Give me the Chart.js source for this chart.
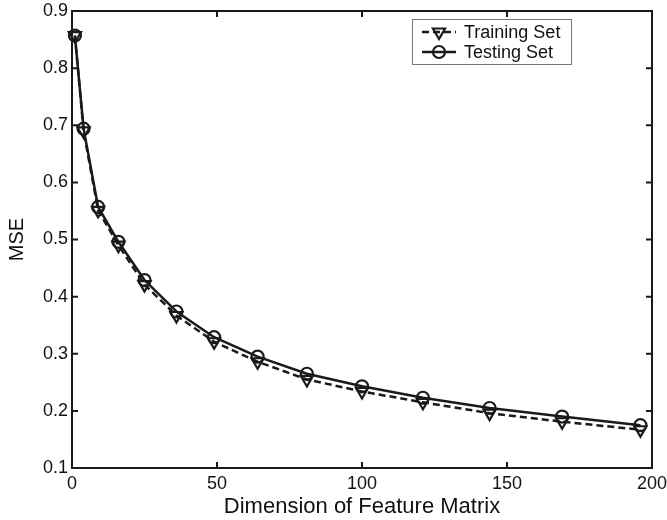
<!DOCTYPE html>
<html>
<head>
<meta charset="utf-8">
<script src="https://cdn.jsdelivr.net/npm/chart.js@4/dist/chart.umd.min.js"></script>
<style>
  html, body { margin: 0; padding: 0; background: #fff; }
  #wrap { width: 667px; height: 520px; }
</style>
</head>
<body>
<div id="wrap"><canvas id="chart" width="667" height="520"></canvas></div>
<script>
// Data
const dims = [1, 4, 9, 16, 25, 36, 49, 64, 81, 100, 121, 144, 169, 196];
const trainMse = [0.857, 0.690, 0.551, 0.490, 0.421, 0.367, 0.321, 0.286, 0.255, 0.234, 0.215, 0.196, 0.181, 0.167];
const testMse = [0.857, 0.694, 0.557, 0.496, 0.429, 0.374, 0.329, 0.295, 0.265, 0.243, 0.223, 0.205, 0.190, 0.175];
const xTicks = [0, 50, 100, 150, 200];
const yTicks = [0.1, 0.2, 0.3, 0.4, 0.5, 0.6, 0.7, 0.8, 0.9];

const FONT = '"Liberation Sans", Arial, sans-serif';
const INK = '#1a1a1a';

function toPoints(ys) {
  return dims.map((d, i) => ({ x: d, y: ys[i] }));
}

// Box frame + inward ticks on all four sides (MATLAB style)
const frameTicks = {
  id: 'frameTicks',
  afterDraw(chart) {
    const { ctx, chartArea: a, scales } = chart;
    const len = 6;
    ctx.save();
    ctx.strokeStyle = INK;
    ctx.lineWidth = 2;
    ctx.strokeRect(a.left, a.top, a.right - a.left, a.bottom - a.top);
    ctx.beginPath();
    xTicks.forEach(v => {
      const px = scales.x.getPixelForValue(v);
      ctx.moveTo(px, a.bottom); ctx.lineTo(px, a.bottom - len);
      ctx.moveTo(px, a.top); ctx.lineTo(px, a.top + len);
    });
    yTicks.forEach(v => {
      const py = scales.y.getPixelForValue(v);
      ctx.moveTo(a.left, py); ctx.lineTo(a.left + len, py);
      ctx.moveTo(a.right, py); ctx.lineTo(a.right - len, py);
    });
    ctx.stroke();
    ctx.restore();
  }
};

// Boxed legend in the upper right
const boxLegend = {
  id: 'boxLegend',
  afterDraw(chart) {
    const { ctx } = chart;
    const box = { x: 412, y: 19, w: 159, h: 45 };
    ctx.save();
    ctx.fillStyle = '#fff';
    ctx.fillRect(box.x, box.y, box.w, box.h);
    ctx.strokeStyle = '#777';
    ctx.lineWidth = 1;
    ctx.strokeRect(box.x + 0.5, box.y + 0.5, box.w, box.h);
    chart.data.datasets.forEach((ds, i) => {
      const y = box.y + 13 + i * 20;
      ctx.strokeStyle = ds.borderColor;
      ctx.lineWidth = ds.borderWidth;
      ctx.setLineDash(ds.borderDash || []);
      ctx.beginPath();
      ctx.moveTo(box.x + 10, y);
      ctx.lineTo(box.x + 44, y);
      ctx.stroke();
      ctx.setLineDash([]);
      ctx.fillStyle = 'rgba(0,0,0,0)';
      ctx.strokeStyle = ds.pointBorderColor;
      ctx.lineWidth = ds.pointBorderWidth;
      Chart.helpers.drawPoint(ctx, {
        pointStyle: ds.pointStyle,
        rotation: ds.pointRotation || 0,
        radius: ds.pointRadius,
        borderWidth: ds.pointBorderWidth
      }, box.x + 27, y);
      ctx.fillStyle = '#111';
      ctx.font = '18px ' + FONT;
      ctx.textBaseline = 'middle';
      ctx.fillText(ds.label, box.x + 52, y + 1);
    });
    ctx.restore();
  }
};

new Chart(document.getElementById('chart').getContext('2d'), {
  type: 'line',
  data: {
    datasets: [
      {
        label: 'Training Set',
        data: toPoints(trainMse),
        borderColor: INK,
        borderWidth: 2.5,
        borderDash: [7, 4],
        pointStyle: 'triangle',
        pointRotation: 180,
        pointRadius: 7,
        pointBorderWidth: 2.2,
        pointBorderColor: INK,
        pointBackgroundColor: 'rgba(0,0,0,0)',
        tension: 0,
        clip: false
      },
      {
        label: 'Testing Set',
        data: toPoints(testMse),
        borderColor: INK,
        borderWidth: 2.5,
        pointStyle: 'circle',
        pointRadius: 6,
        pointBorderWidth: 2.2,
        pointBorderColor: INK,
        pointBackgroundColor: 'rgba(0,0,0,0)',
        tension: 0,
        clip: false
      }
    ]
  },
  options: {
    responsive: false,
    animation: false,
    layout: { padding: { top: 11, right: 15, left: 0, bottom: 0 } },
    plugins: {
      legend: { display: false },
      tooltip: { enabled: false }
    },
    scales: {
      x: {
        type: 'linear',
        min: 0, max: 200,
        afterBuildTicks: s => { s.ticks = xTicks.map(v => ({ value: v })); },
        afterFit: s => { s.height = 52; s.paddingLeft = 0; s.paddingRight = 0; },
        grid: { display: false, drawTicks: false },
        border: { display: false },
        ticks: { color: '#111', font: { family: FONT, size: 18 }, padding: 5, maxRotation: 0 },
        title: {
          display: true, text: 'Dimension of Feature Matrix', color: '#111',
          font: { family: FONT, size: 22 }, padding: { top: 0, bottom: 0 }
        }
      },
      y: {
        min: 0.1, max: 0.9,
        afterBuildTicks: s => { s.ticks = yTicks.map(v => ({ value: v })); },
        afterFit: s => { s.width = 72; s.paddingTop = 0; s.paddingBottom = 0; },
        grid: { display: false, drawTicks: false },
        border: { display: false },
        ticks: { color: '#111', font: { family: FONT, size: 18 }, padding: 4, callback: v => v.toFixed(1) },
        title: {
          display: true, text: 'MSE', color: '#111',
          font: { family: FONT, size: 20 }, padding: { top: 5, bottom: 0 }
        }
      }
    }
  },
  plugins: [frameTicks, boxLegend]
});
</script>
</body>
</html>
